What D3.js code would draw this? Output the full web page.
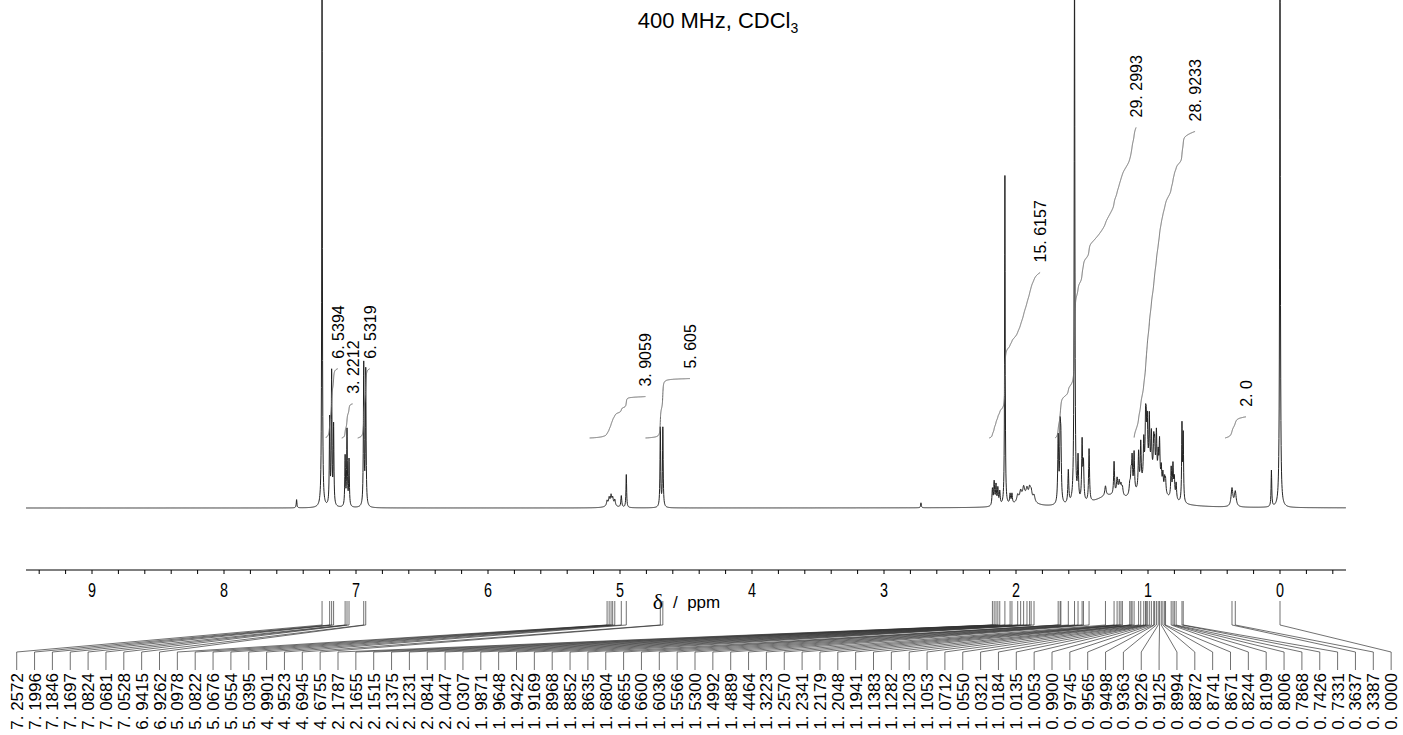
<!DOCTYPE html>
<html>
<head>
<meta charset="utf-8">
<script src="https://cdnjs.cloudflare.com/ajax/libs/d3/7.8.5/d3.min.js"></script>
<style>
body { margin: 0; background: #fff; }
text { font-family: "Liberation Sans", Arial, sans-serif; fill: #000; }
</style>
</head>
<body>
<div id="chart"></div>
<script>
const WIDTH = 1403, HEIGHT = 735;

// peak list picked by the software (bottom labels)
const PEAK_LABELS = ["7.2572","7.1996","7.1846","7.1697","7.0824","7.0681","7.0528","6.9415","6.9262",
  "5.0978","5.0822","5.0676","5.0554","5.0395","4.9901","4.9523","4.6945","4.6755",
  "2.1787","2.1655","2.1515","2.1375","2.1231","2.0841","2.0447","2.0307","1.9871","1.9648","1.9422",
  "1.9169","1.8968","1.8852","1.8635","1.6804","1.6655","1.6600","1.6036","1.5566","1.5300","1.4992",
  "1.4889","1.4464","1.3223","1.2570","1.2341","1.2179","1.2048","1.1941","1.1383","1.1282","1.1203",
  "1.1053","1.0712","1.0550","1.0321","1.0184","1.0135","1.0053","0.9900","0.9745","0.9565","0.9498",
  "0.9363","0.9226","0.9125","0.8994","0.8872","0.8741","0.8671","0.8244","0.8109","0.8006","0.7868",
  "0.7426","0.7331","0.3637","0.3387","0.0000"];

// lines of the spectrum: position (ppm), height, half width (ppm)
const LINE_PPM = [7.45, 7.2572, 7.1996, 7.1846, 7.1697, 7.0824, 7.0681, 7.0528, 6.9415, 6.9262,
  5.07, 5.0978, 5.0822, 5.0676, 5.0554, 5.0395, 4.9901, 4.9523, 4.6945, 4.6755, 2.72,
  2.1787, 2.1655, 2.1515, 2.1375, 2.1231, 2.0841, 2.0447, 2.0307, 1.93, 1.9871, 1.9648, 1.9422,
  1.9169, 1.8968, 1.8852, 1.8635, 1.6804, 1.6655, 1.6600, 1.6036, 1.5566, 1.5300, 1.4992,
  1.4889, 1.4464, 1.30, 1.3223, 1.2570, 1.2341, 1.2179, 1.2048, 1.1941, 1.1383, 1.1282, 1.1203,
  1.1053, 0.98, 1.0712, 1.0550, 1.0321, 1.0184, 1.0135, 1.0053, 0.9900, 0.9745, 0.9565, 0.9498,
  0.9363, 0.9226, 0.9125, 0.8994, 0.8872, 0.8741, 0.8671, 0.8244, 0.8109, 0.8006, 0.7868,
  0.7426, 0.7331, 0.3637, 0.3387, 0.065, 0.0000];
const LINE_HEIGHT = [2.5, 170, 26, 40, 24, 15, 23, 14, 43, 41,
  1.2, 1.5, 2, 2.5, 2, 1.8, 3.5, 10, 24, 24, 1.5,
  5, 7, 6, 5, 4, 100, 3, 3, 3, 2, 2.5, 3,
  2.5, 3, 2.5, 2, 20, 20, 16, 10, 170, 13, 18,
  11, 16, 3, 3, 10, 5, 4, 3, 2.5, 3, 6, 10,
  12, 9, 11, 13, 12, 15, 12, 15, 17, 12, 10, 9,
  14, 8, 13, 6, 5, 4, 4, 9, 10, 6, 5,
  23, 20, 5.5, 4.5, 11, 170];
const LINE_WIDTH = [0.003, 0.0025, 0.003, 0.003, 0.003, 0.003, 0.003, 0.003, 0.003, 0.003,
  0.03, 0.005, 0.005, 0.005, 0.005, 0.005, 0.004, 0.003, 0.003, 0.003, 0.003,
  0.004, 0.004, 0.004, 0.004, 0.004, 0.0025, 0.004, 0.004, 0.06, 0.008, 0.008, 0.008,
  0.008, 0.008, 0.008, 0.008, 0.004, 0.004, 0.004, 0.004, 0.003, 0.004, 0.004,
  0.004, 0.004, 0.12, 0.006, 0.004, 0.006, 0.006, 0.006, 0.006, 0.005, 0.005, 0.004,
  0.004, 0.09, 0.004, 0.004, 0.004, 0.004, 0.004, 0.004, 0.004, 0.004, 0.004, 0.004,
  0.004, 0.004, 0.004, 0.004, 0.004, 0.004, 0.004, 0.004, 0.004, 0.004, 0.004,
  0.003, 0.003, 0.008, 0.008, 0.003, 0.003];

// integrals: value, region start and end (ppm)
const INT_LABELS = ["6.5394", "3.2212", "6.5319", "3.9059", "5.605", "15.6157", "29.2993", "28.9233", "2.0"];
const INT_FROM = [7.229, 7.108, 6.987, 5.23, 4.807, 2.203, 1.703, 1.105, 0.416];
const INT_TO = [7.138, 7.025, 6.896, 4.807, 4.47, 1.817, 1.090, 0.643, 0.257];

const AXIS_TICKS = [9, 8, 7, 6, 5, 4, 3, 2, 1, 0];

const x = d3.scaleLinear().domain([9.5, -0.5]).range([26, 1346]);
const y = d3.scaleLinear().domain([0, 100]).range([508, 178]);
const INT_SCALE = 10.6, INT_BASE = 438;

// the plotting software writes "7. 2572"
const Spaced = s => s.replace(".", ". ")

function Intensity(p) {
    let s = 0;
    for (let i = 0; i < LINE_PPM.length; i++) {
        const d = p - LINE_PPM[i], w = LINE_WIDTH[i];
        s += LINE_HEIGHT[i] * w * w / (d * d + w * w);
    }
    return s;
}

const svg = d3.select("#chart")
    .append("svg")
    .attr("width", WIDTH)
    .attr("height", HEIGHT)

svg.append("clipPath").attr("id", "clip")
    .append("rect").attr("x", 0).attr("y", 0).attr("width", WIDTH).attr("height", 560)

// title
const title = svg.append("text")
    .attr("x", 718).attr("y", 28)
    .attr("text-anchor", "middle")
    .style("font-size", "22px")
title.append("tspan").text("400 MHz, CDCl")
title.append("tspan").attr("dy", 5).style("font-size", "14px").text("3")

// spectrum
const pts = d3.range(9.5, -0.5, -0.0015).concat(LINE_PPM.filter(p => p <= 9.5 && p >= -0.5))
pts.sort((a, b) => b - a)
const spec = pts.map(p => [p, Intensity(p)])
svg.append("path")
    .datum(spec)
    .attr("clip-path", "url(#clip)")
    .attr("fill", "none")
    .attr("stroke", "#222")
    .attr("stroke-width", 1)
    .attr("d", d3.line().x(d => x(d[0])).y(d => y(d[1])))

// integral curves
INT_LABELS.forEach((lab, i) => {
    const ps = d3.range(INT_FROM[i], INT_TO[i], -0.0005)
    let cum = 0
    const acc = ps.map(p => { cum += Intensity(p); return [p, cum] })
    const total = parseFloat(lab) * INT_SCALE
    svg.append("path")
        .datum(acc)
        .attr("fill", "none")
        .attr("stroke", "#666")
        .attr("stroke-width", 1)
        .attr("d", d3.line().x(d => x(d[0])).y(d => INT_BASE - d[1] / cum * total))
    const ex = x(INT_TO[i]), ey = INT_BASE - total
    svg.append("text")
        .attr("transform", `translate(${ex + 6},${ey - 10}) rotate(-90)`)
        .style("font-size", "16px")
        .text(Spaced(lab))
})

// axis
const axis = svg.append("g")
axis.append("line")
    .attr("x1", x(9.5)).attr("x2", x(-0.5))
    .attr("y1", 570).attr("y2", 570)
    .attr("stroke", "#000")
axis.selectAll(".minor")
    .data(d3.range(-4, 95, 2).map(v => v / 10))
    .enter().append("line")
    .attr("x1", d => x(d)).attr("x2", d => x(d))
    .attr("y1", 570).attr("y2", 574)
    .attr("stroke", "#000")
axis.selectAll(".lbl")
    .data(AXIS_TICKS)
    .enter().append("text")
    .attr("x", d => x(d)).attr("y", 597)
    .attr("text-anchor", "middle")
    .attr("textLength", 8).attr("lengthAdjust", "spacingAndGlyphs")
    .style("font-size", "21px")
    .text(d => d)
svg.append("text")
    .attr("x", 658).attr("y", 609)
    .attr("text-anchor", "middle")
    .style("font-family", "'Liberation Serif', serif")
    .style("font-size", "22px")
    .text("δ")
svg.append("text")
    .attr("x", 673).attr("y", 608)
    .style("font-size", "17px")
    .style("white-space", "pre")
    .text("/  ppm")

// peak pick labels
const LX0 = 16.7, LDX = 17.85
svg.selectAll(".pk")
    .data(PEAK_LABELS)
    .enter().append("path")
    .attr("fill", "none")
    .attr("stroke", "#333")
    .attr("stroke-width", 0.7)
    .attr("d", (d, i) => {
        const px = x(parseFloat(d)), lx = LX0 + i * LDX
        return `M${px},601V625L${lx},652V670`
    })
svg.selectAll(".pkl")
    .data(PEAK_LABELS)
    .enter().append("text")
    .attr("transform", (d, i) => `translate(${LX0 + i * LDX + 6},673) rotate(-90)`)
    .attr("text-anchor", "end")
    .style("font-size", "17px")
    .text(d => Spaced(d))
</script>
</body>
</html>
